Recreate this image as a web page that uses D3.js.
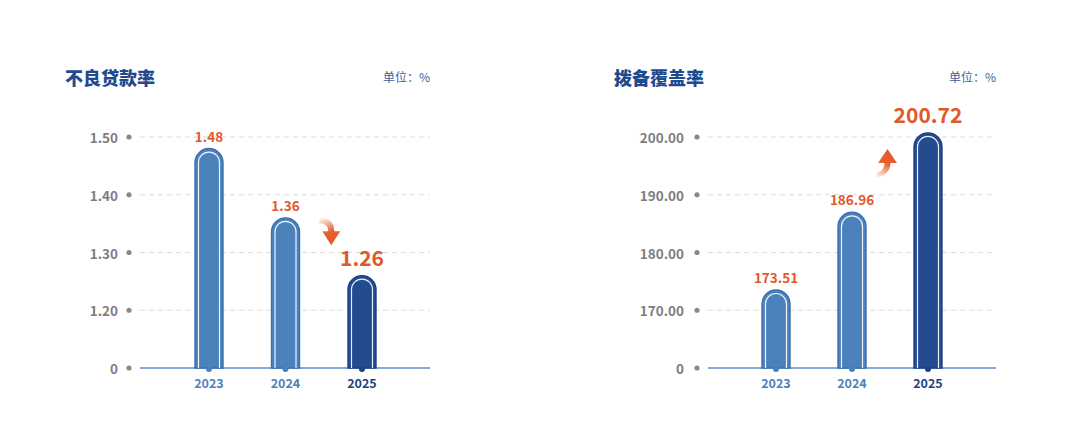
<!DOCTYPE html>
<html><head><meta charset="utf-8">
<script src="https://cdn.jsdelivr.net/npm/d3@7"></script>
<style>html,body{margin:0;padding:0;background:#fff;}svg{display:block;}</style>
</head><body>
<script>
// ---- data ----
const years = ["2023", "2024", "2025"];
const nplValues = [1.48, 1.36, 1.26];
const nplTicks = [1.1, 1.2, 1.3, 1.4, 1.5];
const nplTickLabels = ["0", "1.20", "1.30", "1.40", "1.50"];
const covValues = [173.51, 186.96, 200.72];
const covTicks = [160, 170, 180, 190, 200];
const covTickLabels = ["0", "170.00", "180.00", "190.00", "200.00"];
const titles = ["不良贷款率", "拨备覆盖率"];
const unitText = "单位：%";

const W = 1080, H = 443;
const svg = d3.select("body").append("svg").attr("width", W).attr("height", H);
const defs = svg.append("defs");
["down", "up"].forEach(k => {
  const g = defs.append("linearGradient").attr("id", "grad-" + k)
    .attr("x1", "0").attr("y1", k === "down" ? "0" : "1")
    .attr("x2", "0.3").attr("y2", k === "down" ? "1" : "0");
  g.append("stop").attr("offset", "0").attr("stop-color", "#e8622c").attr("stop-opacity", 0);
  g.append("stop").attr("offset", "0.6").attr("stop-color", "#e8622c").attr("stop-opacity", 1);
  g.append("stop").attr("offset", "1").attr("stop-color", "#e0592a").attr("stop-opacity", 1);
});

const FONT = "'Noto Sans CJK SC','Noto Sans',sans-serif";
const ORANGE = "#e0592a";

function panel(o) {
  const g = svg.append("g");
  const y = d3.scaleLinear().domain(o.domain).range([368, 137]);
  const x = d3.scalePoint().domain(years).range(o.xr);
  // title
  g.append("text").attr("x", o.titleX).attr("y", 77).attr("dominant-baseline", "central")
    .attr("font-family", FONT).attr("font-weight", 900).attr("font-size", 18)
    .attr("fill", "#1f4a8e").text(o.title);
  g.append("text").attr("x", o.gridR).attr("y", 76).attr("dominant-baseline", "central")
    .attr("text-anchor", "end").attr("font-family", FONT).attr("font-size", 12)
    .attr("fill", "#3a5f9c").text(unitText);
  // grid + ticks
  o.ticks.forEach((t, i) => {
    const yy = y(t);
    if (i > 0) g.append("line").attr("x1", o.gridL).attr("x2", o.gridR).attr("y1", yy).attr("y2", yy)
      .attr("stroke", "#dcdcdc").attr("stroke-width", 1).attr("stroke-dasharray", "5,4");
    g.append("circle").attr("cx", o.dotX).attr("cy", yy).attr("r", 2.6).attr("fill", "#8a8a8a");
    g.append("text").attr("x", o.labelX).attr("y", yy).attr("dominant-baseline", "central")
      .attr("text-anchor", "end").attr("font-family", FONT).attr("font-weight", 600)
      .attr("font-size", 13.5).attr("fill", "#7d7d7d").text(o.tickLabels[i]);
  });
  // baseline
  const base = y(o.domain[0]);
  g.append("line").attr("x1", o.gridL).attr("x2", o.gridR).attr("y1", base).attr("y2", base)
    .attr("stroke", "#5d8fc9").attr("stroke-width", 1.6);
  const bw = 28;
  function barPath(cx, top, w, bottom) {
    const r = w / 2, x0 = cx - r;
    return `M${x0},${bottom}L${x0},${top + r}A${r},${r} 0 0 1 ${x0 + w},${top + r}L${x0 + w},${bottom}Z`;
  }
  o.values.forEach((v, i) => {
    const cx = x(years[i]);
    const last = i === o.values.length - 1;
    const fill = last ? "#234b90" : "#4c82bb";
    const stroke = last ? "#1d4187" : "#3c70ae";
    const top = y(v);
    g.append("path").attr("d", barPath(cx, top, bw, base)).attr("fill", fill)
      .attr("stroke", stroke).attr("stroke-width", 1.4);
    const ir = bw / 2 - 3.5;
    g.append("path").attr("d", `M${cx - ir},${base}L${cx - ir},${top + bw / 2}A${ir},${ir} 0 0 1 ${cx + ir},${top + bw / 2}L${cx + ir},${base}`)
      .attr("fill", "none").attr("stroke", "#ffffff").attr("stroke-width", 1.2).attr("stroke-opacity", 0.9);
    g.append("circle").attr("cx", cx).attr("cy", base + 1).attr("r", 3).attr("fill", last ? "#1d4187" : "#4c82bb");
    // value label
    g.append("text").attr("x", cx).attr("y", top - (last ? 19 : 13)).attr("dominant-baseline", "central")
      .attr("text-anchor", "middle").attr("font-family", FONT).attr("font-weight", 700)
      .attr("font-size", last ? 21 : 13.5).attr("fill", ORANGE)
      .text(o.fmt(v));
    // year label
    g.append("text").attr("x", cx).attr("y", 382).attr("dominant-baseline", "central")
      .attr("text-anchor", "middle").attr("font-family", FONT).attr("font-weight", 700)
      .attr("font-size", 12.5).attr("fill", last ? "#1f3f80" : "#4c82bb").text(years[i]);
  });
  return {x, y, g};
}

const L = panel({title: titles[0], titleX: 65, domain: [1.1, 1.5], ticks: nplTicks, tickLabels: nplTickLabels,
  values: nplValues, xr: [209, 362], gridL: 140, gridR: 430, dotX: 129, labelX: 118, fmt: d3.format(".2f")});
const R = panel({title: titles[1], titleX: 614, domain: [160, 200], ticks: covTicks, tickLabels: covTickLabels,
  values: covValues, xr: [776, 928], gridL: 708, gridR: 996, dotX: 697, labelX: 684, fmt: d3.format(".2f")});

// trend arrows (positioned between the last two bars)
(function () {
  const cx = (L.x(years[1]) + L.x(years[2])) / 2 + 7.5;
  const cy = L.y(1.337); // head base
  const p = `M${cx - 12},${cy - 13}
    C${cx - 3},${cy - 14} ${cx + 3},${cy - 9} ${cx + 3},${cy}
    L${cx + 9},${cy} L${cx},${cy + 14} L${cx - 9},${cy} L${cx - 3},${cy}
    C${cx - 3},${cy - 5} ${cx - 6},${cy - 8} ${cx - 12},${cy - 8} Z`;
  L.g.append("path").attr("d", p).attr("fill", "url(#grad-down)");
})();
(function () {
  const cx = (R.x(years[1]) + R.x(years[2])) / 2 - 2.5;
  const cy = R.y(195.5); // head base
  const p = `M${cx - 11},${cy + 15}
    C${cx - 3},${cy + 13} ${cx + 3},${cy + 8} ${cx + 3},${cy}
    L${cx + 9.5},${cy} L${cx},${cy - 14} L${cx - 9.5},${cy} L${cx - 3},${cy}
    C${cx - 3},${cy + 5} ${cx - 6},${cy + 9} ${cx - 11},${cy + 10} Z`;
  R.g.append("path").attr("d", p).attr("fill", "url(#grad-up)");
})();
</script>
</body></html>
